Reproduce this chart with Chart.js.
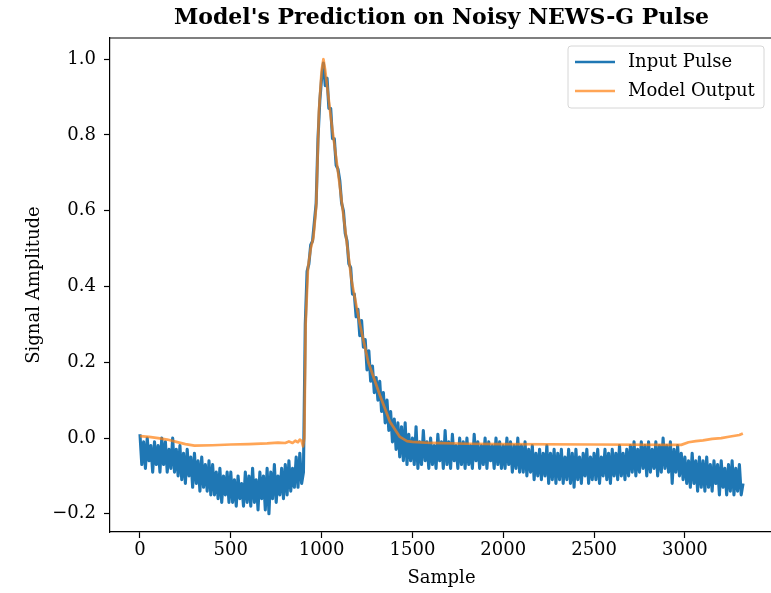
<!DOCTYPE html>
<html>
<head>
<meta charset="utf-8">
<title>Model's Prediction on Noisy NEWS-G Pulse</title>
<script src="https://cdn.jsdelivr.net/npm/chart.js@4.4.1/dist/chart.umd.min.js"></script>
<style>
  html, body { margin: 0; padding: 0; background: #ffffff; overflow: hidden; }
  #wrap { width: 771px; height: 593px; overflow: hidden; position: relative; }
  canvas { display: block; }
</style>
</head>
<body>
<div id="wrap"><canvas id="pulseChart" width="780" height="593"></canvas></div>
<script>
// ---- Text ----
const chartTitle = "Model's Prediction on Noisy NEWS-G Pulse";
const xLabel = 'Sample';
const yLabel = 'Signal Amplitude';
const seriesNames = ['Input Pulse', 'Model Output'];

// ---- Input pulse: one value every 10 samples (row = 100 samples) ----
const inputStep = 10;
const inputPulse = [
  0.01, -0.07, -0.01, -0.08, 0.00, -0.06, -0.02, -0.09, -0.01, -0.07,      // 0
  -0.02, -0.09, 0.00, -0.07, -0.01, -0.09, -0.03, -0.08, 0.00, -0.09,      // 100
  -0.03, -0.10, -0.02, -0.11, -0.04, -0.12, -0.03, -0.10, -0.05, -0.13,    // 200
  -0.04, -0.12, -0.06, -0.14, -0.05, -0.13, -0.07, -0.14, -0.06, -0.15,    // 300
  -0.07, -0.15, -0.09, -0.16, -0.08, -0.17, -0.10, -0.15, -0.09, -0.17,    // 400
  -0.09, -0.17, -0.11, -0.18, -0.10, -0.16, -0.12, -0.18, -0.09, -0.17,    // 500
  -0.10, -0.18, -0.08, -0.17, -0.11, -0.19, -0.09, -0.16, -0.10, -0.19,    // 600
  -0.08, -0.20, -0.09, -0.16, -0.07, -0.17, -0.10, -0.15, -0.08, -0.16,    // 700
  -0.07, -0.15, -0.06, -0.14, -0.08, -0.13, -0.05, -0.13, -0.04, -0.12,    // 800
  -0.09, 0.30, 0.44, 0.46, 0.51, 0.52, 0.57, 0.62, 0.79, 0.89,             // 900
  0.95, 0.99, 0.93, 0.95, 0.87, 0.87, 0.79, 0.79, 0.72, 0.71,              // 1000
  0.68, 0.62, 0.60, 0.54, 0.52, 0.46, 0.45, 0.38, 0.38, 0.32,              // 1100
  0.34, 0.27, 0.31, 0.24, 0.26, 0.18, 0.23, 0.15, 0.19, 0.12,              // 1200
  0.16, 0.10, 0.15, 0.07, 0.12, 0.04, 0.10, 0.02, 0.07, -0.01,             // 1300
  0.05, -0.03, 0.04, -0.05, 0.03, -0.06, 0.04, -0.07, 0.01, -0.06,         // 1400
  0.00, -0.07, 0.03, -0.08, -0.01, -0.07, 0.02, -0.06, -0.01, -0.08,       // 1500
  0.00, -0.07, -0.02, -0.08, 0.01, -0.06, -0.01, -0.08, 0.02, -0.07,       // 1600
  -0.01, -0.08, 0.01, -0.06, -0.02, -0.08, 0.00, -0.07, -0.01, -0.08,      // 1700
  0.00, -0.07, -0.02, -0.08, 0.01, -0.06, -0.01, -0.08, -0.02, -0.07,      // 1800
  0.00, -0.08, -0.01, -0.06, -0.02, -0.08, 0.00, -0.07, -0.01, -0.08,      // 1900
  -0.02, -0.08, 0.00, -0.07, -0.01, -0.09, -0.02, -0.08, 0.00, -0.09,      // 2000
  -0.02, -0.09, -0.01, -0.10, -0.03, -0.09, -0.02, -0.11, -0.04, -0.10,    // 2100
  -0.03, -0.11, -0.04, -0.10, -0.02, -0.12, -0.04, -0.11, -0.03, -0.12,    // 2200
  -0.04, -0.11, -0.03, -0.12, -0.05, -0.11, -0.03, -0.12, -0.04, -0.13,    // 2300
  -0.03, -0.11, -0.05, -0.12, -0.04, -0.10, -0.03, -0.12, -0.05, -0.11,    // 2400
  -0.04, -0.11, -0.03, -0.12, -0.05, -0.10, -0.03, -0.11, -0.04, -0.12,    // 2500
  -0.03, -0.10, -0.04, -0.11, -0.02, -0.10, -0.04, -0.11, -0.03, -0.10,    // 2600
  -0.02, -0.09, -0.01, -0.10, -0.03, -0.09, -0.01, -0.08, -0.02, -0.10,    // 2700
  -0.01, -0.09, -0.03, -0.08, -0.01, -0.10, -0.02, -0.09, 0.00, -0.08,     // 2800
  -0.02, -0.09, -0.01, -0.12, -0.03, -0.09, -0.02, -0.10, -0.04, -0.11,    // 2900
  -0.05, -0.12, -0.06, -0.13, -0.04, -0.12, -0.06, -0.14, -0.05, -0.13,    // 3000
  -0.06, -0.14, -0.05, -0.13, -0.07, -0.14, -0.06, -0.12, -0.07, -0.15,    // 3100
  -0.06, -0.13, -0.08, -0.15, -0.07, -0.14, -0.06, -0.15, -0.08, -0.14,    // 3200
  -0.07, -0.15, -0.12                                                      // 3300
];

// ---- Model output (denoised reconstruction) ----
const modelSamples = [
  0, 50, 100, 150, 200, 250, 300, 400, 500, 600,
  700, 760, 800, 820, 840, 855, 870, 880, 890, 898,
  905, 912, 925, 940, 955, 970, 985, 1000, 1010, 1020,
  1030, 1055, 1091, 1128, 1165, 1211, 1257, 1321, 1376, 1431,
  1470, 1500, 1600, 1800, 2000, 2500, 2900, 2980, 3020, 3060,
  3100, 3150, 3200, 3250, 3300, 3319
];
const modelOutput = [
  0.005, 0.003, 0.000, -0.004, -0.010, -0.016, -0.020, -0.019, -0.017, -0.016,
  -0.014, -0.012, -0.013, -0.009, -0.013, -0.007, -0.011, -0.004, -0.008, -0.022,
  0.000, 0.30, 0.45, 0.50, 0.53, 0.61, 0.86, 0.97, 1.00, 0.97,
  0.93, 0.83, 0.70, 0.557, 0.415, 0.30, 0.20, 0.113, 0.043, 0.003,
  -0.008, -0.010, -0.013, -0.015, -0.016, -0.017, -0.018, -0.018, -0.011, -0.008,
  -0.006, -0.002, 0.000, 0.004, 0.008, 0.012
];

// ---- Axis ticks ----
const xTicks = [0, 500, 1000, 1500, 2000, 2500, 3000];
const yTicks = [-0.2, 0.0, 0.2, 0.4, 0.6, 0.8, 1.0];

// ---- Styling ----
const FONT = 'DejaVu Serif, Liberation Serif, serif';
const colInput = '#1f77b4';
const colModel = 'rgba(255, 127, 14, 0.7)';
const legendLineWidth = 2.6;

const inputPoints = inputPulse.map((v, i) => ({ x: i * inputStep, y: v }));
const modelPoints = modelSamples.map((s, i) => ({ x: s, y: modelOutput[i] }));

// Title, top frame edge and legend box, drawn on top of the chart
const decorations = {
  id: 'decorations',
  afterDraw(chart) {
    const ctx = chart.ctx;
    const a = chart.chartArea;
    ctx.save();

    // top frame edge
    ctx.strokeStyle = '#000';
    ctx.lineWidth = 1.2;
    ctx.beginPath();
    ctx.moveTo(a.left, a.top);
    ctx.lineTo(chart.width, a.top);
    ctx.stroke();

    // title
    ctx.fillStyle = '#000';
    ctx.font = 'bold 22px ' + FONT;
    ctx.textAlign = 'center';
    ctx.textBaseline = 'middle';
    ctx.fillText(chartTitle, (a.left + a.right) / 2, 18);

    // legend
    const bw = 196, bh = 62;
    const bx = a.right - 9 - bw, by = a.top + 8;
    const r = 3;
    ctx.beginPath();
    ctx.moveTo(bx + r, by);
    ctx.lineTo(bx + bw - r, by);
    ctx.quadraticCurveTo(bx + bw, by, bx + bw, by + r);
    ctx.lineTo(bx + bw, by + bh - r);
    ctx.quadraticCurveTo(bx + bw, by + bh, bx + bw - r, by + bh);
    ctx.lineTo(bx + r, by + bh);
    ctx.quadraticCurveTo(bx, by + bh, bx, by + bh - r);
    ctx.lineTo(bx, by + r);
    ctx.quadraticCurveTo(bx, by, bx + r, by);
    ctx.closePath();
    ctx.fillStyle = 'rgba(255,255,255,0.8)';
    ctx.fill();
    ctx.strokeStyle = '#d6d6d6';
    ctx.lineWidth = 1;
    ctx.stroke();

    chart.data.datasets.forEach((ds, i) => {
      const y = by + 16 + i * 29;
      ctx.strokeStyle = ds.borderColor;
      ctx.lineWidth = legendLineWidth;
      ctx.beginPath();
      ctx.moveTo(bx + 7, y);
      ctx.lineTo(bx + 47, y);
      ctx.stroke();
      ctx.fillStyle = '#000';
      ctx.font = '18px ' + FONT;
      ctx.textAlign = 'left';
      ctx.textBaseline = 'middle';
      ctx.fillText(ds.label, bx + 60, y);
    });

    ctx.restore();
  }
};

const tickFmtY = v => (v < 0 ? '\u2212' : '') + Math.abs(v).toFixed(1);

new Chart(document.getElementById('pulseChart'), {
  type: 'line',
  data: {
    datasets: [
      {
        label: seriesNames[0],
        data: inputPoints,
        borderColor: colInput,
        borderWidth: 3.1,
        pointRadius: 0,
        tension: 0,
        borderJoinStyle: 'round',
        fill: false,
        order: 1
      },
      {
        label: seriesNames[1],
        data: modelPoints,
        borderColor: colModel,
        borderWidth: 2.7,
        pointRadius: 0,
        tension: 0,
        borderJoinStyle: 'round',
        fill: false,
        order: 0
      }
    ]
  },
  options: {
    responsive: false,
    animation: false,
    events: [],
    layout: { padding: { top: 38, right: 7, left: 0, bottom: 0 } },
    plugins: {
      legend: { display: false },
      title: { display: false },
      tooltip: { enabled: false }
    },
    scales: {
      x: {
        type: 'linear',
        min: -165,
        max: 3485,
        afterBuildTicks: s => { s.ticks = xTicks.map(v => ({ value: v })); },
        afterFit: s => { s.height = 61; },
        border: { display: true, color: '#000', width: 1.2 },
        grid: { display: true, drawOnChartArea: false, drawTicks: true, tickLength: 6, tickColor: '#000', tickWidth: 1.2 },
        ticks: { color: '#000', font: { family: FONT, size: 18 }, padding: 2, maxRotation: 0, autoSkip: false, callback: v => String(v) },
        title: { display: true, text: xLabel, color: '#000', font: { family: FONT, size: 18 }, padding: { top: 0, bottom: 4 } }
      },
      y: {
        type: 'linear',
        min: -0.248,
        max: 1.056,
        afterBuildTicks: s => { s.ticks = yTicks.map(v => ({ value: v })); },
        afterFit: s => { s.width = 110; },
        border: { display: true, color: '#000', width: 1.2 },
        grid: { display: true, drawOnChartArea: false, drawTicks: true, tickLength: 6, tickColor: '#000', tickWidth: 1.2 },
        ticks: { color: '#000', font: { family: FONT, size: 18 }, padding: 8, autoSkip: false, callback: tickFmtY },
        title: { display: true, text: yLabel, color: '#000', font: { family: FONT, size: 18 }, padding: { top: 24, bottom: 0 } }
      }
    }
  },
  plugins: [decorations]
});
</script>
</body>
</html>
